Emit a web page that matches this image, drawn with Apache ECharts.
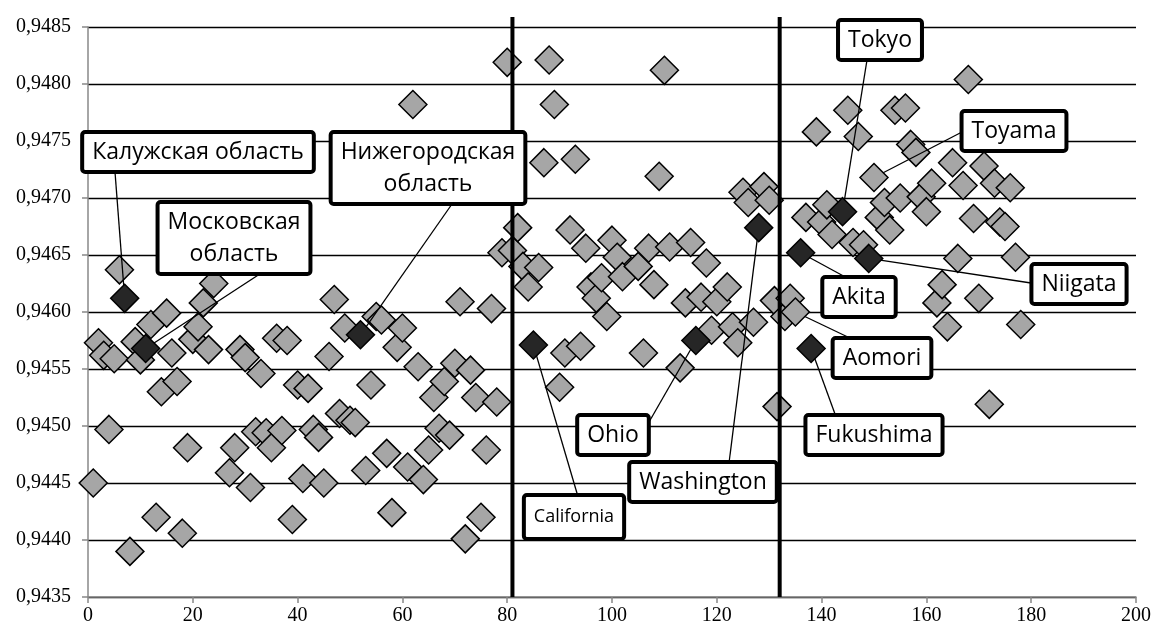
<!DOCTYPE html>
<html><head><meta charset="utf-8">
<script src="https://cdn.jsdelivr.net/npm/echarts@6/dist/echarts.min.js"></script>
<style>html,body{margin:0;padding:0;background:#fff}#c{width:1154px;height:631px}</style>
</head><body><div id="c"></div>
<script>
// Unlabelled regions (gray diamonds)
const grayX = [1,2,3,4,5,6,8,9,10,12,13,14,15,16,17,18,19,20,21,22,23,24,27,28,29,30,31,32,33,34,35,36,37,38,39,40,41,42,43,44,45,46,47,48,49,50,51,53,54,55,56,57,58,59,60,61,62,63,64,65,66,67,68,69,70,71,72,73,74,75,76,77,78,79,80,81,
  82,83,84,86,87,88,89,90,91,92,93,94,95,96,97,98,99,100,101,102,105,106,107,108,109,110,111,113,114,115,117,118,119,120,122,123,124,125,126,127,129,130,131,131.5,
  133,134,137,139,140,141,142,145,146,147,148,151,152,153,154,155,156,157,158,159,160,161,162,163,164,165,166,167,168,169,170,171,172,173,174,175,176,177,178];
const grayY = [0.94450,0.94573,0.94562,0.94497,0.94559,0.94637,0.94390,0.94574,0.94558,0.94589,0.94420,0.94530,0.94599,0.94564,0.94539,0.94406,0.94481,0.94576,0.94587,0.94608,0.94567,0.94625,0.94459,0.94481,0.94567,0.94560,0.94446,0.94495,0.94546,0.94494,0.94481,0.94577,0.94496,0.94575,0.94418,0.94536,0.94454,0.94533,0.94497,0.94490,0.94450,0.94561,0.94611,0.94511,0.94586,0.94505,0.94503,0.94461,0.94536,0.94596,0.94593,0.94476,0.94424,0.94569,0.94586,0.94464,0.94782,0.94552,0.94453,0.94479,0.94525,0.94498,0.94539,0.94492,0.94555,0.94609,0.94401,0.94549,0.94525,0.94420,0.94479,0.94603,0.94521,0.94652,0.94819,0.94654,
  0.94674,0.94640,0.94622,0.94639,0.94731,0.94821,0.94782,0.94534,0.94564,0.94672,0.94734,0.94570,0.94656,0.94622,0.94612,0.94630,0.94596,0.94663,0.94648,0.94631,0.94640,0.94564,0.94656,0.94624,0.94719,0.94812,0.94657,0.94551,0.94608,0.94661,0.94613,0.94643,0.94584,0.94609,0.94622,0.94587,0.94573,0.94705,0.94696,0.94591,0.94710,0.94698,0.94610,0.94517,
  0.94596,0.94612,0.94683,0.94758,0.94679,0.94694,0.94668,0.94777,0.94661,0.94754,0.94659,0.94683,0.94696,0.94672,0.94777,0.94700,0.94779,0.94747,0.94740,0.94701,0.94688,0.94713,0.94608,0.94624,0.94587,0.94731,0.94647,0.94711,0.94804,0.94682,0.94612,0.94728,0.94519,0.94713,0.94679,0.94675,0.94709,0.94648,0.94589];

// Labelled regions
const hlNames = ['Калужская область','Московская\nобласть','Нижегородская\nобласть','California','Ohio','Washington','Tokyo','Toyama','Niigata','Akita','Aomori','Fukushima'];
const hlX = [7,11,52,85,116,128,144,150,149,136,135,138];
const hlY = [0.94612,0.94568,0.94580,0.94571,0.94575,0.94674,0.94688,0.94718,0.94647,0.94652,0.94600,0.94568];
const hlDark = [true,true,true,true,true,true,true,false,true,true,false,true];

// Country boundaries (x positions of the vertical separators)
const boundaries = [81, 132];

// Axis ranges
const xMin = 0, xMax = 200, xStep = 20;
const yMin = 0.9435, yMax = 0.9485, yStep = 0.0005;

// Layout: centres of label boxes and leader-line start points (pixels)
const labelPos = [[198,152],[234,238],[428,168],[574,517],[613,435],[703,482],[880,40],[1014,131],[1079,284],[859,297],[882,358],[874,435]];
const leaderStart = [[115,172],[292,253],[452,204],[579,500],[641,436],[729,463],[867,60],[962,132],[1031,283],[849,279],[852,339],[835,414]];
const boundaryOvershoot = 10; // separators rise slightly above the plot top

const GRAY = '#a6a6a6', DARK = '#262626';
const chart = echarts.init(document.getElementById('c'));
const axisFont = {fontFamily: 'Liberation Serif', fontSize: 20, color: '#000'};

chart.setOption({
  animation: false,
  backgroundColor: '#fff',
  grid: {left: 88, right: 18, top: 27, bottom: 34},
  xAxis: {
    type: 'value', min: xMin, max: xMax, interval: xStep,
    axisLine: {lineStyle: {color: '#888', width: 1.5}},
    axisTick: {show: true, length: 6, lineStyle: {color: '#888', width: 1.5}},
    splitLine: {show: false},
    axisLabel: Object.assign({margin: 9}, axisFont)
  },
  yAxis: {
    type: 'value', min: yMin, max: yMax, interval: yStep,
    axisLine: {show: true, lineStyle: {color: '#888', width: 1.5}},
    axisTick: {show: true, length: 6, lineStyle: {color: '#888', width: 1.5}},
    splitLine: {show: true, lineStyle: {color: '#000', width: 1.3}},
    axisLabel: Object.assign({margin: 17, formatter: v => v.toFixed(4).replace('.', ',')}, axisFont)
  },
  series: [
    {
      type: 'scatter',
      symbol: 'diamond', symbolSize: 28,
      itemStyle: {color: GRAY, borderColor: '#000', borderWidth: 1.5, opacity: 1},
      emphasis: {disabled: true},
      data: grayX.map((x, i) => [x, grayY[i]]),
      z: 2
    },
    {
      // vertical separators between Russia / USA / Japan
      type: 'custom',
      z: 2.4,
      silent: true,
      clip: false,
      data: boundaries.map(b => [b]),
      renderItem: (params, api) => {
        const top = api.coord([api.value(0), yMax]);
        const bot = api.coord([api.value(0), yMin]);
        return {
          type: 'line',
          shape: {x1: top[0], y1: top[1] - boundaryOvershoot, x2: bot[0], y2: bot[1]},
          style: {stroke: '#000', lineWidth: 4}
        };
      }
    },
    {
      // leader lines from each label box to its point
      type: 'custom',
      z: 2.5,
      silent: true,
      clip: false,
      data: hlX.map((x, i) => [x, hlY[i]]),
      renderItem: (params, api) => {
        const p = api.coord([api.value(0), api.value(1)]);
        const s = leaderStart[params.dataIndex];
        return {
          type: 'line',
          shape: {x1: s[0], y1: s[1], x2: p[0], y2: p[1]},
          style: {stroke: '#000', lineWidth: 1.3}
        };
      }
    },
    {
      type: 'scatter',
      symbol: 'diamond', symbolSize: 28,
      z: 3,
      emphasis: {disabled: true},
      data: hlNames.map((n, i) => ({
        name: n,
        value: [hlX[i], hlY[i]],
        itemStyle: {color: hlDark[i] ? DARK : GRAY, borderColor: '#000', borderWidth: 1.5, opacity: 1},
        label: n === 'California' ? {fontSize: 18, padding: [5, 8, 3, 8]} : {}
      })),
      label: {
        show: true, position: 'inside',
        formatter: p => p.name,
        fontFamily: 'Open Sans', fontSize: 23, color: '#000', lineHeight: 32,
        textBorderWidth: 0, textBorderColor: 'transparent', textShadowBlur: 0,
        backgroundColor: '#fff', borderColor: '#000', borderWidth: 4, borderRadius: 1,
        shadowBlur: 0, shadowColor: 'transparent',
        padding: [3, 8, 1, 8], align: 'center', verticalAlign: 'middle', opacity: 1
      },
      labelLine: {show: false},
      labelLayout: p => ({x: labelPos[p.dataIndex][0], y: labelPos[p.dataIndex][1]})
    }
  ]
});
</script></body></html>
